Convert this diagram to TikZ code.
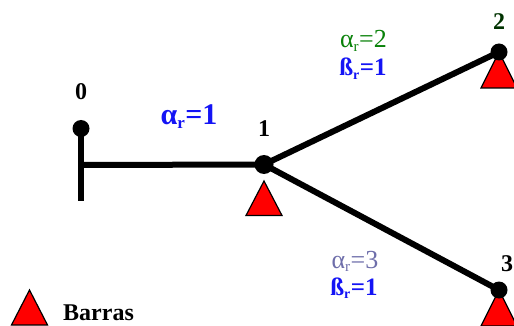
\documentclass[tikz,border=0pt]{standalone}
\usepackage{fontspec}
\setmainfont{Liberation Serif}
\newcommand{\lab}[4]{\fontsize{#1}{#1}\selectfont #2\textsubscript{\fontsize{#3}{#3}\selectfont r}=#4}
\tikzset{
  x=1pt,y=-1pt,
  bus/.style={circle,fill=black,inner sep=0pt,minimum size=#1},
  line/.style={draw=black,line width=6pt},
  tri/.style={draw=black,line width=1.2pt,fill=red,line join=miter},
  num/.style={inner sep=0pt,font=\bfseries\fontsize{24}{24}\selectfont},
  txt/.style={inner sep=0pt,anchor=base}
}
\definecolor{g1}{RGB}{10,130,10}
\definecolor{b1}{RGB}{20,20,245}
\definecolor{p1}{RGB}{110,110,170}
\definecolor{dg}{RGB}{0,50,0}
\begin{document}
\begin{tikzpicture}
\useasboundingbox (0,0) rectangle (514,326);
\clip (0,0) rectangle (514,326);
\coordinate (j) at (81,165);
\coordinate (e) at (81,201);
% triangles
\draw[tri] (264,181)--(282,215.5)--(246,215.5)--cycle;
\draw[tri] (499,52)--(517,88)--(481,88)--cycle;
\draw[tri] (499,290)--(517,326)--(481,326)--cycle;
\draw[tri] (29.5,290)--(47.5,325)--(11.5,325)--cycle;
\node[bus=17pt] (n0) at (81,128.5) {};
\node[bus=19pt] (n1) at (264,164.5) {};
\node[bus=17pt] (n2) at (499,52) {};
\node[bus=17pt] (n3) at (499,290) {};
\draw[line] (n0.center)--(e);
\draw[line] (j)--(n1.center);
\draw[line] (n1.center)--(n2.center);
\draw[line] (n1.center)--(n3.center);
\node[num] (t0) at (81,92) {0};
\node[num] (t1) at (264,129) {1};
\node[num,text=dg] (t2) at (499,22) {2};
\node[num] (t3) at (507,264) {3};
\node[txt,text=b1,font=\bfseries] (a1) at (189,125) {\lab{30}{α}{17}{1}};
\node[txt,text=g1] (a2) at (363.5,48) {\lab{26}{α}{15}{2}};
\node[txt,text=b1,font=\bfseries] (b2) at (363,76) {\lab{25}{ß}{14}{1}};
\node[txt,text=p1] (a3) at (355,268) {\lab{26}{α}{15}{3}};
\node[txt,text=b1,font=\bfseries] (b3) at (354,295) {\lab{25}{ß}{14}{1}};
\node[inner sep=0pt,anchor=base west,font=\bfseries\fontsize{24}{24}\selectfont] (l) at (63,320) {Barras};
\end{tikzpicture}
\end{document}
